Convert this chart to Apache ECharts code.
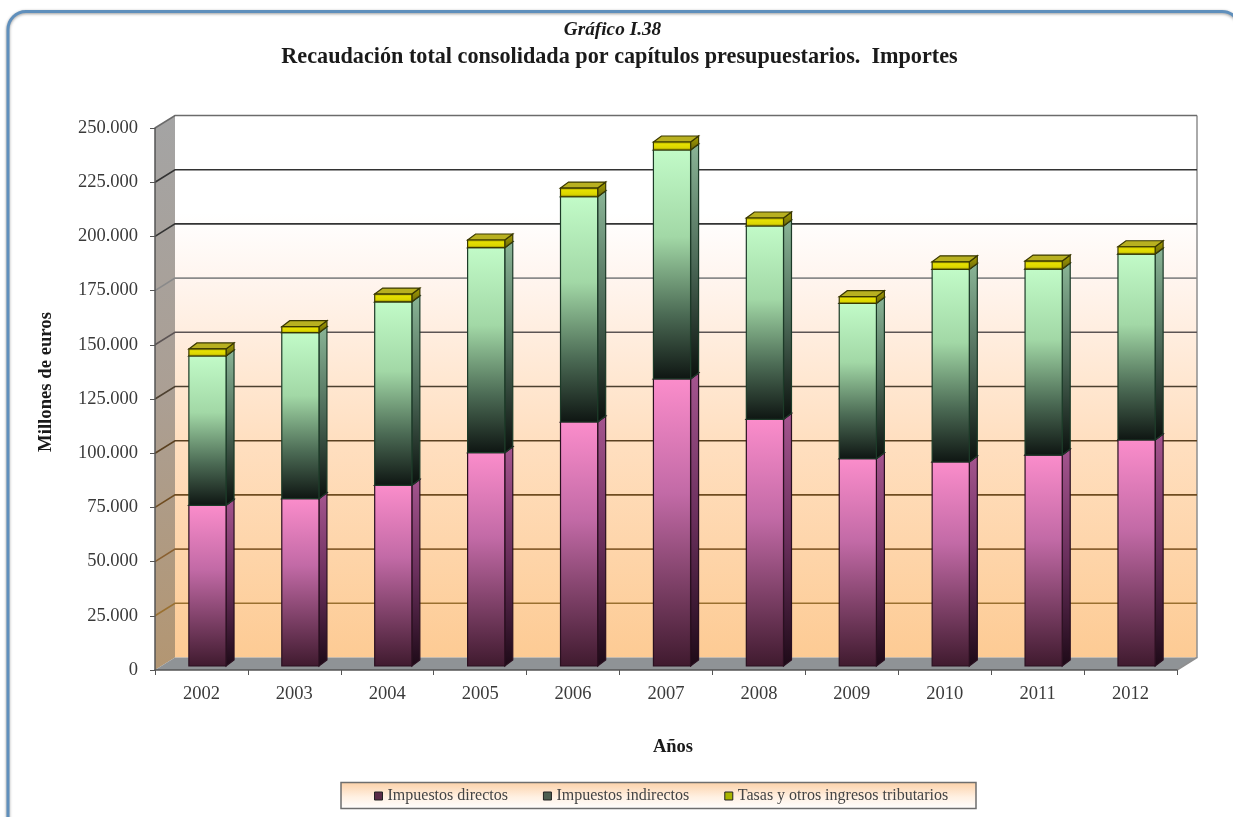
<!DOCTYPE html>
<html><head><meta charset="utf-8">
<style>html,body{margin:0;padding:0;background:#fff;overflow:hidden}#c{width:1233px;height:817px;filter:blur(0.5px)}</style>
<script src="https://cdn.jsdelivr.net/npm/echarts@6/dist/echarts.min.js"></script>
</head><body><div id="c"></div>
<script>
const years=['2002','2003','2004','2005','2006','2007','2008','2009','2010','2011','2012'];
const directos=[74100,77170,83350,98400,112550,132400,113800,95600,94100,97300,104250];
const indirectos=[68900,76580,84650,94550,103900,105600,89150,71700,88850,85800,85750];
const tasas=[3230,2770,3550,3550,4010,3690,3690,3040,3500,3690,3370];
const yTicks=[0,25000,50000,75000,100000,125000,150000,175000,200000,225000,250000];
const seriesNames=['Impuestos directos','Impuestos indirectos','Tasas y otros ingresos tributarios'];

const FONT='"Liberation Serif","Times New Roman",serif';
const G=echarts.graphic;
const grad=(stops)=>new G.LinearGradient(0,0,0,1,stops.map(s=>({offset:s[0],color:s[1]})));
const WALL={dx:20,dy:12.5}, BAR={ox:6,oy:4,dx:8,dy:6,w:0.4};
const gridColor={25000:'#9a7030',50000:'#8a6030',75000:'#6f4c20',100000:'#5a4020',125000:'#4d4030',150000:'#5c5454',175000:'#8a8a8a',200000:'#333333',225000:'#333333',250000:'#6b6b6b'};

function renderWalls(params,api){
  const cs=params.coordSys, x=cs.x, w=cs.width;
  const yT=api.coord([0,250000])[1], y0=api.coord([0,0])[1];
  const {dx,dy}=WALL;
  return {type:'group',children:[
    {type:'rect',shape:{x:x+dx,y:yT-dy,width:w,height:y0-yT},
     style:{fill:grad([[0,'#ffffff'],[0.18,'#ffffff'],[0.3,'#fff5ef'],[0.6,'#ffdfc0'],[1,'#fdcb94']])}},
    {type:'polygon',shape:{points:[[x,yT],[x+dx,yT-dy],[x+dx,y0-dy],[x,y0]]},
     style:{fill:grad([[0,'#a4a4a4'],[0.5,'#ab9f94'],[1,'#b39672']])}},
    {type:'polygon',shape:{points:[[x,y0],[x+dx,y0-dy],[x+w+dx,y0-dy],[x+w,y0]]},
     style:{fill:'#8f9396'}},
    {type:'polyline',shape:{points:[[x+w,y0],[x+w+dx,y0-dy],[x+w+dx,yT-dy]]},
     style:{fill:'none',stroke:'#8f8f8f',lineWidth:1.5}}
  ]};
}
function renderGrid(params,api){
  const cs=params.coordSys, x=cs.x, w=cs.width;
  const v=api.value(0), y=api.coord([0,v])[1];
  const {dx,dy}=WALL;
  if(v===0) return {type:'group',children:[]};
  return {type:'polyline',shape:{points:[[x,y],[x+dx,y-dy],[x+w+dx,y-dy]]},
    style:{fill:'none',stroke:gridColor[v],lineWidth:1.6}};
}
const palettes=[
 {front:[[0,'#fb8dcb'],[0.4,'#c26aa6'],[1,'#3f1a2e']],side:[[0,'#a5558f'],[0.5,'#6a2f5c'],[1,'#1d0a17']],top:'#a8558c',edge:'#2a1020'},
 {front:[[0,'#c2fbc8'],[0.38,'#a2d8a6'],[0.72,'#4b6a54'],[1,'#0e1512']],side:[[0,'#8ab596'],[0.5,'#4d6a58'],[1,'#0a100d']],top:'#8fbf98',edge:'#1c3a28'},
 {front:[[0,'#8a8500'],[0.3,'#e6e000'],[0.7,'#dcd600'],[1,'#6f6a00']],side:[[0,'#a8a200'],[1,'#6a660a']],top:'#b8b020',edge:'#3a3800'}
];
function renderBar(pal){
  return function(params,api){
    const i=api.value(0), v0=api.value(1), v1=api.value(2);
    const c0=api.coord([i,v0]), c1=api.coord([i,v1]);
    const bw=api.size([1,0])[0]*BAR.w;
    const L=c0[0]-bw/2+BAR.ox, R=L+bw, B=c0[1]-BAR.oy, T=c1[1]-BAR.oy;
    const dx=BAR.dx, dy=BAR.dy;
    const stroke={stroke:pal.edge,lineWidth:1.2};
    return {type:'group',children:[
      {type:'polygon',shape:{points:[[R,B],[R+dx,B-dy],[R+dx,T-dy],[R,T]]},style:{fill:grad(pal.side),...stroke}},
      {type:'polygon',shape:{points:[[L,T],[L+dx,T-dy],[R+dx,T-dy],[R,T]]},style:{fill:pal.top,...stroke}},
      {type:'rect',shape:{x:L,y:T,width:bw,height:B-T},style:{fill:grad(pal.front),...stroke}}
    ]};
  };
}
let acc=years.map(()=>0);
const stacks=[directos,indirectos,tasas].map((arr,k)=>{
  const data=arr.map((v,i)=>{const d=[i,acc[i],acc[i]+v];acc[i]+=v;return d;});
  return {name:seriesNames[k],type:'custom',renderItem:renderBar(palettes[k]),data,
    encode:{x:0,y:[1,2]},clip:false,z:3+k,
    itemStyle:{color:['#5a2c48','#3c5044','#a9b400'][k]}};
});
const option={
  animation:false,backgroundColor:'#fff',
  title:[
   {text:'Gráfico I.38',padding:0,left:612.5,top:20.5,textAlign:'center',textStyle:{fontFamily:FONT,fontSize:19.3,fontStyle:'italic',fontWeight:'bold',color:'#1a1a1a'}},
   {text:'Recaudación total consolidada por capítulos presupuestarios.  Importes',padding:0,left:619.5,top:46,textAlign:'center',textStyle:{fontFamily:FONT,fontSize:22.2,fontWeight:'bold',color:'#1a1a1a'}}
  ],
  graphic:[
   {type:'rect',silent:true,z:-2,shape:{x:8,y:11.5,width:1232,height:860,r:18},style:{fill:'#fff',stroke:'#5f8fbc',lineWidth:3,shadowColor:'#999',shadowBlur:3,shadowOffsetY:1}},
   {type:'rect',silent:true,z:-1,shape:{x:341,y:782.5,width:635,height:26},
    style:{fill:new G.LinearGradient(0,0,0,1,[{offset:0,color:'#fcd0a6'},{offset:0.55,color:'#fff0e2'},{offset:1,color:'#ffffff'}]),stroke:'#6e6e6e',lineWidth:1.5}},
   {type:'text',silent:true,x:46,y:382,rotation:Math.PI/2,style:{x:0,y:0,text:'Millones de euros',font:'bold 18.7px '+FONT,fill:'#1a1a1a',align:'center',verticalAlign:'middle'}},
   {type:'text',silent:true,x:673,y:747,style:{x:0,y:0,text:'Años',font:'bold 18.5px '+FONT,fill:'#1a1a1a',align:'center',verticalAlign:'middle'}}
  ],
  legend:{left:374,top:788,itemWidth:8,itemHeight:8,itemGap:35,padding:0,
    selectedMode:false,
    textStyle:{fontFamily:FONT,fontSize:16,color:'#444'},
    data:seriesNames.map((n,k)=>({name:n,icon:'rect',itemStyle:{color:['#5a2c48','#4c5f52','#a9b400'][k],borderColor:'#222',borderWidth:1}}))},
  grid:{left:155,top:128,width:1022,height:542},
  xAxis:{type:'category',data:years,boundaryGap:true,
    axisLine:{lineStyle:{color:'#555',width:1.5}},
    axisTick:{show:true,length:5,lineStyle:{color:'#555'}},
    axisLabel:{fontFamily:FONT,fontSize:18.5,color:'#3a3a3a',margin:15},
    z:6},
  yAxis:{type:'value',min:0,max:250000,interval:25000,
    axisLine:{show:true,lineStyle:{color:'#555',width:1.5}},
    axisTick:{show:true,length:5,lineStyle:{color:'#555'}},
    splitLine:{show:false},
    axisLabel:{fontFamily:FONT,fontSize:18.5,color:'#3a3a3a',margin:17,
      formatter:v=>String(v).replace(/\B(?=(\d{3})+$)/g,'.')},
    z:6},
  series:[
    {name:'walls',type:'custom',renderItem:renderWalls,data:[[0]],encode:{x:0},clip:false,z:1,silent:true},
    {name:'grid',type:'custom',renderItem:renderGrid,data:yTicks.map(v=>[v]),encode:{y:0},clip:false,z:2,silent:true},
    ...stacks
  ]
};
const chart=echarts.init(document.getElementById('c'),null,{renderer:'canvas',width:1233,height:817});
chart.setOption(option);
</script></body></html>
